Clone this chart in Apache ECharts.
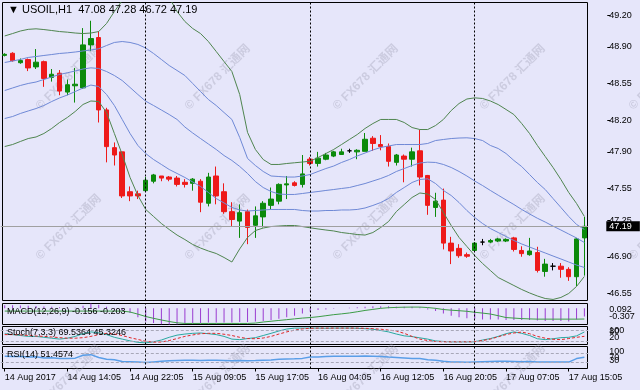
<!DOCTYPE html>
<html><head><meta charset="utf-8">
<script src="https://cdn.jsdelivr.net/npm/echarts@6/dist/echarts.min.js"></script>
<style>html,body{margin:0;padding:0;background:#e6e6fa}#c{width:640px;height:390px}</style>
</head><body><div id="c"></div>
<script>
const symbolName = 'USOIL,H1';
const categories = [
 '14 Aug 06:05','14 Aug 07:05','14 Aug 08:05','14 Aug 09:05','14 Aug 10:05','14 Aug 11:05','14 Aug 12:05','14 Aug 13:05','14 Aug 14:05','14 Aug 15:05',
 '14 Aug 16:05','14 Aug 17:05','14 Aug 18:05','14 Aug 19:05','14 Aug 20:05','14 Aug 21:05','14 Aug 22:05','14 Aug 23:05',
 '15 Aug 03:05','15 Aug 04:05','15 Aug 05:05','15 Aug 06:05','15 Aug 07:05','15 Aug 08:05','15 Aug 09:05','15 Aug 10:05','15 Aug 11:05','15 Aug 12:05',
 '15 Aug 13:05','15 Aug 14:05','15 Aug 15:05','15 Aug 16:05','15 Aug 17:05','15 Aug 18:05','15 Aug 19:05','15 Aug 20:05','15 Aug 21:05','15 Aug 22:05','15 Aug 23:05',
 '16 Aug 03:05','16 Aug 04:05','16 Aug 05:05','16 Aug 06:05','16 Aug 07:05','16 Aug 08:05','16 Aug 09:05','16 Aug 10:05','16 Aug 11:05','16 Aug 12:05',
 '16 Aug 13:05','16 Aug 14:05','16 Aug 15:05','16 Aug 16:05','16 Aug 17:05','16 Aug 18:05','16 Aug 19:05','16 Aug 20:05','16 Aug 21:05','16 Aug 22:05','16 Aug 23:05',
 '17 Aug 03:05','17 Aug 04:05','17 Aug 05:05','17 Aug 06:05','17 Aug 07:05','17 Aug 08:05','17 Aug 09:05','17 Aug 10:05','17 Aug 11:05','17 Aug 12:05',
 '17 Aug 13:05','17 Aug 14:05','17 Aug 15:05','17 Aug 16:05','17 Aug 17:05'
];
const xTickLabels = ['14 Aug 2017','14 Aug 14:05','14 Aug 22:05','15 Aug 09:05','15 Aug 17:05','16 Aug 04:05','16 Aug 12:05','16 Aug 20:05','17 Aug 07:05','17 Aug 15:05'];
const daySeparators = ['15 Aug 03:05','16 Aug 03:05','17 Aug 03:05'];

const opens = [48.82,48.84,48.75,48.78,48.71,48.76,48.61,48.65,48.47,48.53,
 48.51,48.92,48.99,48.30,47.94,47.90,47.52,47.50,47.53,47.62,
 47.67,47.66,47.65,47.61,47.60,47.62,47.41,47.67,47.52,47.33,
 47.24,47.33,47.20,47.28,47.39,47.43,47.585,47.605,47.59,47.83,
 47.79,47.83,47.86,47.875,47.91,47.90,47.905,48.03,47.97,47.95,
 47.80,47.86,47.83,47.91,47.675,47.37,47.44,47.03,46.98,46.92,
 46.96,47.04,47.04,47.05,47.05,47.08,46.96,46.92,46.94,46.76,
 46.81,46.81,46.78,46.71,47.08];
const closes = [48.83,48.77,48.77,48.70,48.755,48.60,48.64,48.48,48.54,48.545,
 48.92,48.98,48.30,47.95,47.87,47.48,47.48,47.48,47.63,47.68,
 47.65,47.64,47.59,47.59,47.64,47.42,47.66,47.48,47.33,47.255,
 47.32,47.18,47.29,47.41,47.45,47.59,47.595,47.58,47.69,47.79,
 47.84,47.87,47.90,47.90,47.91,47.915,48.02,47.98,47.95,47.81,
 47.87,47.83,47.90,47.66,47.39,47.43,47.03,46.955,46.91,46.905,
 47.03,47.04,47.055,47.07,47.065,46.97,46.93,46.955,46.77,46.83,
 46.81,46.78,46.71,47.07,47.19];
const lows = [48.81,48.76,48.74,48.67,48.69,48.52,48.57,48.44,48.44,48.37,
 48.50,48.86,48.18,47.80,47.77,47.46,47.43,47.45,47.52,47.60,
 47.62,47.62,47.57,47.56,47.53,47.325,47.38,47.40,47.31,47.19,
 47.08,47.02,47.08,47.18,47.35,47.40,47.45,47.57,47.56,47.77,
 47.76,47.82,47.85,47.87,47.89,47.83,47.905,47.91,47.915,47.76,
 47.77,47.61,47.76,47.58,47.30,47.28,46.97,46.83,46.89,46.89,
 46.95,47.01,47.03,47.04,47.04,46.95,46.90,46.91,46.75,46.71,
 46.77,46.70,46.67,46.62,46.72];
const highs = [48.84,48.85,48.79,48.79,48.88,48.77,48.69,48.68,48.59,48.70,
 49.08,49.15,49.05,48.32,47.99,47.90,47.57,47.53,47.66,47.69,
 47.67,47.67,47.67,47.64,47.65,47.64,47.70,47.76,47.60,47.42,
 47.40,47.35,47.38,47.43,47.56,47.60,47.67,47.62,47.87,47.85,
 47.90,47.89,47.91,47.93,47.93,47.925,48.08,48.05,48.06,47.98,
 47.88,47.875,47.94,48.11,47.68,47.51,47.55,47.09,47.02,46.94,
 47.04,47.07,47.07,47.08,47.075,47.09,47.00,47.08,46.995,46.88,
 46.84,46.84,46.80,47.08,47.28];

const bbUpper2 = [49.005,49.028,49.052,49.068,49.073,49.066,49.057,49.047,49.041,49.033,
 49.028,49.033,49.047,49.124,49.238,49.343,49.448,49.524,49.562,49.543,
 49.467,49.372,49.238,49.143,49.076,49.028,48.952,48.857,48.761,48.666,
 48.447,48.085,47.923,47.827,47.780,47.780,47.789,47.796,47.803,47.811,
 47.846,47.884,47.923,47.970,48.018,48.065,48.123,48.170,48.209,48.209,
 48.209,48.180,48.132,48.113,48.113,48.151,48.209,48.294,48.361,48.404,
 48.415,48.409,48.385,48.351,48.304,48.256,48.170,48.075,47.961,47.856,
 47.751,47.637,47.513,47.408,47.284];
const bbUpper1 = [48.752,48.766,48.781,48.800,48.809,48.819,48.828,48.838,48.844,48.852,
 48.862,48.871,48.883,48.914,48.943,48.952,48.943,48.924,48.890,48.838,
 48.781,48.723,48.676,48.628,48.552,48.475,48.399,48.342,48.275,48.209,
 48.037,47.837,47.770,47.713,47.670,47.665,47.660,47.660,47.670,47.684,
 47.713,47.741,47.765,47.799,47.827,47.861,47.889,47.918,47.942,47.956,
 47.970,47.970,47.970,47.970,47.980,48.008,48.018,48.027,48.032,48.034,
 48.027,48.008,47.961,47.932,47.884,47.818,47.760,47.684,47.608,47.541,
 47.455,47.370,47.284,47.208,47.160];
const bbMiddle = [48.485,48.509,48.533,48.552,48.566,48.590,48.614,48.638,48.654,48.671,
 48.690,48.701,48.695,48.666,48.628,48.580,48.514,48.447,48.383,48.342,
 48.299,48.256,48.209,48.137,48.080,48.027,47.975,47.923,47.865,47.818,
 47.761,47.694,47.617,47.560,47.522,47.498,47.494,47.494,47.503,47.513,
 47.522,47.532,47.541,47.551,47.560,47.579,47.598,47.622,47.646,47.675,
 47.713,47.741,47.770,47.794,47.802,47.799,47.780,47.751,47.713,47.670,
 47.622,47.579,47.532,47.487,47.442,47.398,47.351,47.308,47.267,47.231,
 47.192,47.155,47.117,47.079,47.036];
const bbLower1 = [48.218,48.237,48.266,48.290,48.313,48.342,48.380,48.414,48.442,48.475,
 48.509,48.537,48.523,48.447,48.342,48.209,48.075,47.961,47.884,47.827,
 47.780,47.732,47.694,47.656,47.613,47.570,47.513,47.455,47.413,47.370,
 47.346,47.336,47.341,47.346,47.351,47.351,47.351,47.351,47.341,47.336,
 47.336,47.341,47.341,47.346,47.346,47.351,47.365,47.389,47.417,47.455,
 47.513,47.560,47.608,47.637,47.643,47.598,47.532,47.484,47.417,47.341,
 47.274,47.217,47.169,47.131,47.093,47.055,47.022,46.993,46.964,46.936,
 46.907,46.879,46.850,46.821,46.798];
const bbLower2 = [47.951,47.970,47.999,48.027,48.042,48.075,48.123,48.180,48.228,48.285,
 48.352,48.385,48.380,48.275,48.075,47.875,47.656,47.484,47.351,47.284,
 47.217,47.160,47.107,47.064,47.017,46.983,46.955,46.931,46.893,46.850,
 46.975,47.084,47.150,47.174,47.188,47.193,47.198,47.198,47.188,47.176,
 47.165,47.155,47.146,47.131,47.122,47.112,47.107,47.131,47.179,47.236,
 47.331,47.398,47.465,47.508,47.498,47.446,47.322,47.198,47.084,46.998,
 46.912,46.836,46.769,46.702,46.664,46.626,46.588,46.555,46.526,46.502,
 46.493,46.512,46.550,46.617,46.712];

const macdMain = [0.06,0.06,0.055,0.05,0.045,0.035,0.03,0.02,0.01,0.01,
 0.05,0.092,0.07,0.03,-0.01,-0.05,-0.09,-0.17,-0.25,-0.28,
 -0.30,-0.307,-0.30,-0.29,-0.28,-0.28,-0.27,-0.27,-0.27,-0.27,
 -0.26,-0.26,-0.25,-0.24,-0.22,-0.20,-0.17,-0.14,-0.10,-0.06,
 -0.03,-0.02,-0.01,0.0,0.01,0.02,0.03,0.04,0.04,0.04,
 0.03,0.03,0.03,0.02,-0.02,-0.05,-0.10,-0.14,-0.17,-0.19,
 -0.20,-0.21,-0.21,-0.21,-0.22,-0.22,-0.22,-0.22,-0.23,-0.24,
 -0.24,-0.24,-0.25,-0.21,-0.156];
const macdSignal = [-0.052,-0.052,-0.052,-0.052,-0.052,-0.052,-0.052,-0.052,-0.052,-0.052,
 -0.052,-0.052,-0.052,-0.052,-0.052,-0.052,-0.07,-0.11,-0.155,-0.19,
 -0.221,-0.25,-0.275,-0.287,-0.287,-0.287,-0.287,-0.287,-0.287,-0.287,
 -0.287,-0.287,-0.28,-0.26,-0.245,-0.23,-0.215,-0.2,-0.185,-0.175,
 -0.16,-0.14,-0.12,-0.105,-0.088,-0.065,-0.04,-0.02,0.0,0.012,
 0.018,0.022,0.024,0.024,0.015,0.0,-0.022,-0.035,-0.045,-0.056,
 -0.075,-0.09,-0.108,-0.14,-0.175,-0.185,-0.195,-0.201,-0.205,-0.205,
 -0.205,-0.205,-0.205,-0.205,-0.203];
const stochMain = [60,55,50,45,45,40,35,30,35,45,
 60,70,65,55,40,30,20,12,9,15,
 25,40,52,58,62,64,60,55,45,30,
 27,33,38,50,62,75,86,91,91,91,
 91,90,91,91,91,90,88,85,78,70,
 58,48,44,37,30,20,17,15,15,15,
 15,25,33,45,60,70,62,50,32,27,
 32,38,40,48,69.5364];
const stochSignal = [55,55,53,50,47,45,42,38,35,35,
 38,45,55,62,58,50,38,28,18,13,
 14,22,33,45,53,60,62,62,57,50,
 40,33,32,36,45,58,70,80,87,90,
 91,91,91,91,91,91,90,88,85,80,
 75,62,45,30,22,17,15,15,15,15,
 16,22,30,43,55,64,69,60,45,35,
 29,27,33,40,45.3246];
const rsiValues = [56,54,55,52,53,48,49,45,46,47,
 60,63,50,42,40,32,31,30,27,30,
 33,35,36,37,38,36,38,37,36,35,
 36,35,36,38,39,42,43,44,46,52,
 52,54,56,56,56,56,57,56,55,52,
 50,48,46,45,40,38,33,30,29,28,
 30,31,32,33,33,32,31,32,29,30,
 30,30,29,45,51.4574];

const priceTicks = [49.20,48.90,48.55,48.20,47.90,47.55,47.25,46.90,46.55];
const macdTicks = [0.092,-0.307];
const stochTicks = [100,80,20];
const rsiTicks = [100,70,30];
const stochLevels = [80,20];
const rsiLevels = [70,30];
const watermarkText = '\u00A9 FX678 \u6C47\u901A\u7F51';

const FONT = "'Liberation Sans','DejaVu Sans',Arial,sans-serif";
const n = categories.length, last = n - 1;
const candleData = opens.map((o, i) => [o, closes[i], lows[i], highs[i]]);
const lastPrice = closes[last];

const panels = [
  {top: 2.5, height: 298},
  {top: 303.5, height: 21},
  {top: 326.5, height: 18},
  {top: 346.5, height: 22}
];
const grids = [];
panels.forEach(p => grids.push({left: 0.8, width: 587.5, top: p.top, height: p.height, show: false, containLabel: false, outerBoundsMode: 'none'}));
panels.forEach(p => grids.push({left: 2.5, width: 585, top: p.top, height: p.height, show: true, borderColor: '#000', borderWidth: 1, backgroundColor: 'rgba(0,0,0,0)', containLabel: false, outerBoundsMode: 'none'}));

const xAxes = panels.map((p, k) => ({
  type: 'category', gridIndex: k, data: categories, boundaryGap: true,
  axisLine: {show: false}, splitLine: {show: false},
  axisTick: k === 3 ? {show: true, interval: 7, alignWithLabel: true, length: 3, lineStyle: {color: '#000'}} : {show: false},
  axisLabel: k === 3 ? {show: true, interval: 7, align: 'left', margin: 5, fontSize: 9, color: '#000', fontFamily: FONT, hideOverlap: false,
    formatter: (v, i) => (i % 8 === 0 ? xTickLabels[i / 8] : '')} : {show: false}
}));

const yAxes = [
  {type: 'value', gridIndex: 0, position: 'right', offset: 19, min: 46.483, max: 49.324,
   axisLine: {show: false}, splitLine: {show: false},
   axisTick: {show: true, length: 3, customValues: priceTicks, lineStyle: {color: '#000'}},
   axisLabel: {customValues: priceTicks, formatter: v => v.toFixed(2), fontSize: 9, color: '#000', fontFamily: FONT, margin: 2,
     hideOverlap: false, showMinLabel: true, showMaxLabel: true}}
];
// one label axis per sub-panel tick so that MT4-style stacked labels are all kept
function addSubAxes(k, min, max, ticks, pads, fmt) {
  const first = yAxes.length;
  ticks.forEach((t, j) => {
    yAxes.push({
      type: 'value', gridIndex: k, position: 'right', offset: 19, min: min, max: max,
      axisLine: {show: false}, splitLine: {show: false}, axisTick: {show: false},
      axisLabel: {customValues: [t], margin: 2, fontSize: 9, color: '#000', fontFamily: FONT,
        hideOverlap: false, showMinLabel: true, showMaxLabel: true,
        rich: {p: {padding: pads[j], fontSize: 9, color: '#000', fontFamily: FONT}},
        formatter: () => '{p|' + fmt(t) + '}'}
    });
  });
  return first;
}
const macdAxis = addSubAxes(1, -0.307, 0.092, macdTicks, [[12,0,0,0],[0,0,16,0]], v => v.toFixed(3));
const stochAxis = addSubAxes(2, 0, 100, stochTicks, [[9,0,0,0],[3,0,0,0],[0,0,6,0]], v => String(v));
const rsiAxis = addSubAxes(3, 0, 100, rsiTicks, [[11,0,0,0],[8,0,0,0],[0,0,3,0]], v => String(v));

const sepLines = daySeparators.map(d => ({xAxis: d, lineStyle: {color: '#000', type: [2, 2], width: 1}, label: {show: false}}));
const levelLine = v => ({yAxis: v, lineStyle: {color: '#a8a8b8', type: [3, 2], width: 1}, label: {show: false}});

function bandLine(name, data, color) {
  return {name: name, type: 'line', xAxisIndex: 0, yAxisIndex: 0, data: data, showSymbol: false, symbol: 'none',
    lineStyle: {color: color, width: 1}, silent: true, z: 3, clip: true};
}
const GREEN_BAND = '#4f854f', BLUE_BAND = '#6f89d6';

const series = [
  {type: 'candlestick', xAxisIndex: 0, yAxisIndex: 0, data: candleData, barWidth: 5, z: 2,
   itemStyle: {color: '#0b8a0b', color0: '#ee1a1a', borderColor: '#0b8a0b', borderColor0: '#ee1a1a', borderColorDoji: '#000', borderWidth: 1},
   markLine: {symbol: ['none', 'none'], silent: true, animation: false,
     data: [{yAxis: lastPrice, lineStyle: {color: '#a0a0a0', type: 'solid', width: 1},
       label: {show: true, position: 'end', distance: 18, formatter: lastPrice.toFixed(2), backgroundColor: '#000', color: '#fff',
         padding: [1, 8, 0, 3], fontSize: 9, fontFamily: FONT}}].concat(sepLines)}},
  bandLine('BB2 upper', bbUpper2, GREEN_BAND),
  bandLine('BB1 upper', bbUpper1, BLUE_BAND),
  bandLine('BB middle', bbMiddle, BLUE_BAND),
  bandLine('BB1 lower', bbLower1, BLUE_BAND),
  bandLine('BB2 lower', bbLower2, GREEN_BAND),
  {type: 'bar', xAxisIndex: 1, yAxisIndex: macdAxis, data: macdMain, barWidth: 1, itemStyle: {color: '#9a3cd0'}, silent: true,
   markLine: {symbol: ['none', 'none'], silent: true, animation: false, data: sepLines}},
  {type: 'line', xAxisIndex: 1, yAxisIndex: macdAxis, data: macdSignal, showSymbol: false, symbol: 'none', lineStyle: {color: '#3c9c46', width: 1}, silent: true},
  {type: 'line', xAxisIndex: 2, yAxisIndex: stochAxis, data: stochMain, showSymbol: false, symbol: 'none', lineStyle: {color: '#2aa9a0', width: 1}, silent: true,
   markLine: {symbol: ['none', 'none'], silent: true, animation: false, data: stochLevels.map(levelLine).concat(sepLines)}},
  {type: 'line', xAxisIndex: 2, yAxisIndex: stochAxis, data: stochSignal, showSymbol: false, symbol: 'none', lineStyle: {color: '#e02828', width: 1, type: [3, 2]}, silent: true},
  {type: 'line', xAxisIndex: 3, yAxisIndex: rsiAxis, data: rsiValues, showSymbol: false, symbol: 'none', lineStyle: {color: '#5a9ee8', width: 1.5}, silent: true,
   markLine: {symbol: ['none', 'none'], silent: true, animation: false, data: rsiLevels.map(levelLine).concat(sepLines)}}
];

const headerText = '\u25BC ' + symbolName + '  ' + [opens[last], highs[last], lows[last], closes[last]].map(v => v.toFixed(2)).join(' ');
const subTitle = (text, top) => ({text: text, left: 7, top: top, padding: 0, textStyle: {fontSize: 9, fontWeight: 'normal', color: '#000', fontFamily: FONT, lineHeight: 10}});
const titles = [
  {text: headerText, left: 8, top: 4, padding: 0, textStyle: {fontSize: 11, fontWeight: 'normal', color: '#000', fontFamily: FONT, lineHeight: 12}},
  subTitle('MACD(12,26,9) ' + macdMain[last].toFixed(3) + ' ' + macdSignal[last].toFixed(3), 306.5),
  subTitle('Stoch(7,3,3) ' + stochMain[last].toFixed(4) + ' ' + stochSignal[last].toFixed(4), 328),
  subTitle('RSI(14) ' + rsiValues[last].toFixed(4), 350)
];

const wmX = [38, 187, 335, 482, 631], wmY = [108, 258, 408];
const graphics = [];
wmY.forEach(y => wmX.forEach(x => graphics.push({
  type: 'text', x: x, y: y, rotation: Math.PI / 4, silent: true, z: 1,
  style: {text: watermarkText, fill: 'rgba(150,150,172,0.32)', font: "bold 12px 'Liberation Sans','Noto Sans CJK SC',sans-serif", verticalAlign: 'middle', textVerticalAlign: 'middle'}
})));

const chart = echarts.init(document.getElementById('c'), null, {renderer: 'canvas', width: 640, height: 390});
chart.setOption({
  backgroundColor: '#e6e6fa',
  animation: false,
  title: titles,
  grid: grids,
  xAxis: xAxes,
  yAxis: yAxes,
  series: series,
  graphic: {elements: graphics}
});
</script>
</body></html>
